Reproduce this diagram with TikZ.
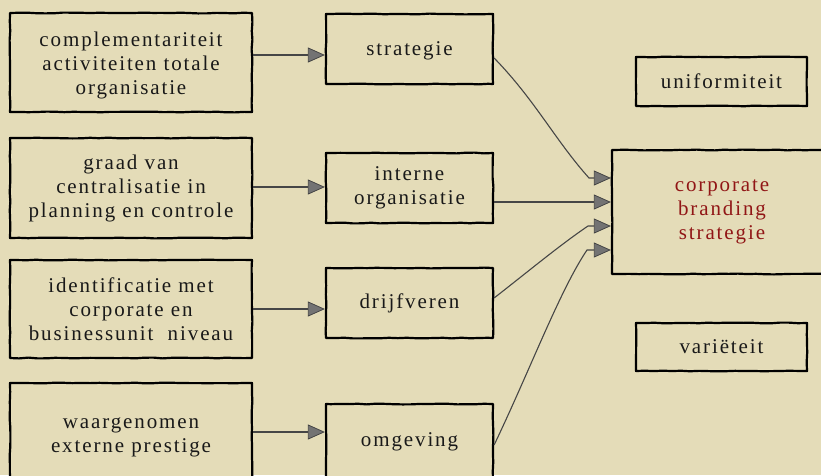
\documentclass[tikz,border=0pt]{standalone}
\usepackage{fontspec}
\setmainfont{Liberation Serif}[LetterSpace=9]
\usetikzlibrary{arrows.meta,decorations.pathmorphing}
\definecolor{bg}{RGB}{228,220,184}
\definecolor{txtred}{RGB}{145,22,22}
\definecolor{conn}{RGB}{70,70,70}
\newcommand\lowered[2]{\raisebox{-#1}[\height][\depth]{\begin{tabular}{@{}c@{}}#2\end{tabular}}}
\begin{document}
\begin{tikzpicture}[x=1pt,y=-1pt,
  box/.style={draw=black, line width=2.2pt, fill=bg, align=center, inner sep=0pt,
    line join=round,
    decorate, decoration={random steps, segment length=9pt, amplitude=0.4pt},
    font=\fontsize{21}{24}\selectfont, text=black!90},
  tip/.style={-{Triangle[length=17pt,width=15pt,fill=black!55,line width=0.8pt]}},
  conn/.style={draw=conn, line width=1.1pt, tip}
]
\pgfmathsetseed{7}
\useasboundingbox (0,0) rectangle (821,475);
\fill[bg] (0,0) rectangle (821,475);

% left column
\node[box, minimum width=242pt, minimum height=99pt] (A1) at (131,62.5) {\lowered{3pt}{complementariteit\\activiteiten totale\\organisatie}};
\node[box, minimum width=242pt, minimum height=100pt] (A2) at (131,188) {graad van\\centralisatie in\\planning en controle};
\node[box, minimum width=242pt, minimum height=98pt] (A3) at (131,309) {identificatie met\\corporate en\\businessunit\ \ niveau};
\node[box, minimum width=242pt, minimum height=108pt] (A4) at (131,437) {waargenomen\\externe prestige};

% middle column
\node[box, minimum width=167pt, minimum height=70pt] (B1) at (409.5,49) {\lowered{2pt}{strategie}};
\node[box, minimum width=167pt, minimum height=70pt] (B2) at (409.5,188) {interne\\organisatie};
\node[box, minimum width=167pt, minimum height=70pt] (B3) at (409.5,303) {drijfveren};
\node[box, minimum width=167pt, minimum height=76pt] (B4) at (409.5,442) {omgeving};

% right column
\node[box, minimum width=220pt, minimum height=124pt, text=txtred] (C) at (722,212) {corporate\\branding\\strategie};
\node[box, minimum width=171pt, minimum height=49pt] (U) at (721.5,81.5) {uniformiteit};
\node[box, minimum width=171pt, minimum height=48pt] (V) at (721.5,347) {variëteit};

% left -> middle
\draw[conn] (A1.east |- 0,55) -- (B1.west |- 0,55);
\draw[conn] (A2.east |- 0,187) -- (B2.west |- 0,187);
\draw[conn] (A3.east |- 0,309) -- (B3.west |- 0,309);
\draw[conn] (A4.east |- 0,432) -- (B4.west |- 0,432);

% middle -> right
\coordinate (c1) at (589,178);
\coordinate (c3) at (588,226);
\coordinate (c4) at (587,250);
\draw[conn] (B1.east |- 0,58) .. controls (535,100) and (555,140) .. (c1) -- (C.west |- c1);
\draw[conn] (B2.east |- 0,202) -- (C.west |- 0,202);
\draw[conn] (B3.east |- 0,298) .. controls (530,270) and (560,245) .. (c3) -- (C.west |- c3);
\draw[conn] (B4.east |- 0,445) .. controls (530,370) and (560,290) .. (c4) -- (C.west |- c4);
\end{tikzpicture}
\end{document}
